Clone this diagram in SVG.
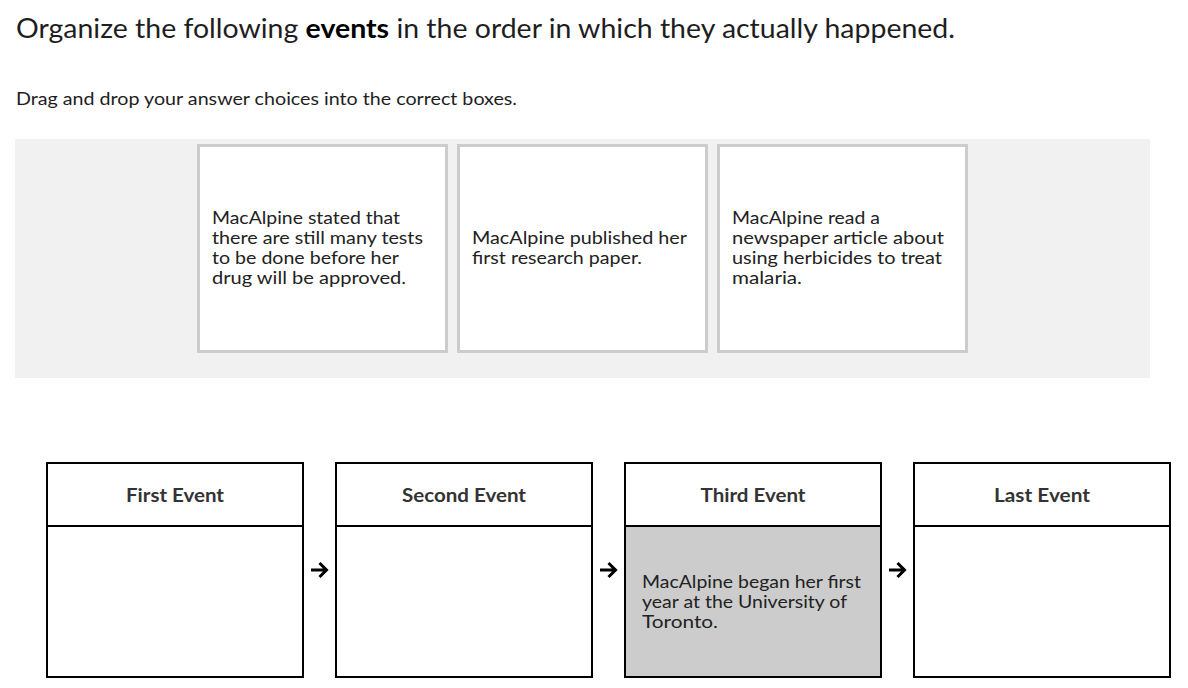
<svg xmlns="http://www.w3.org/2000/svg" width="1188" height="688" viewBox="0 0 1188 688">
<style>
text{font-family:"Source Sans Pro",Lato,"Noto Sans","Liberation Sans",sans-serif;fill:#1e1e1e}
.title{font-size:27px}
.sub{font-size:18px}
.card{fill:#fff;stroke:#cccccc;stroke-width:3}
.ct{font-size:17px;fill:#222}
.box{fill:#fff;stroke:#000;stroke-width:2}
.hd{font-size:18px;font-weight:bold;fill:#333;text-anchor:middle}
.arr{fill:none;stroke:#000;stroke-width:3;stroke-linecap:butt;stroke-linejoin:miter}
</style>
<rect width="1188" height="688" fill="#fff"/>
<g id="header">
<text class="title" x="16" y="38" textLength="939" lengthAdjust="spacingAndGlyphs">Organize the following <tspan font-weight="bold" fill="#000">events</tspan> in the order in which they actually happened.</text>
<text class="sub" x="16" y="105" textLength="501" lengthAdjust="spacingAndGlyphs">Drag and drop your answer choices into the correct boxes.</text>
</g>
<rect id="choices-panel" x="15" y="139" width="1135" height="239" fill="#f1f1f1"/>
<g id="choice1">
<rect class="card" x="198.5" y="145.5" width="248" height="206"/>
<text class="ct" x="212" y="224" textLength="188" lengthAdjust="spacingAndGlyphs">MacAlpine stated that</text>
<text class="ct" x="212" y="244" textLength="211" lengthAdjust="spacingAndGlyphs">there are still many tests</text>
<text class="ct" x="212" y="264" textLength="187" lengthAdjust="spacingAndGlyphs">to be done before her</text>
<text class="ct" x="212" y="284" textLength="194" lengthAdjust="spacingAndGlyphs">drug will be approved.</text>
</g>
<g id="choice2">
<rect class="card" x="458.5" y="145.5" width="248" height="206"/>
<text class="ct" x="472" y="244" textLength="215" lengthAdjust="spacingAndGlyphs">MacAlpine published her</text>
<text class="ct" x="472" y="264" textLength="170" lengthAdjust="spacingAndGlyphs">first research paper.</text>
</g>
<g id="choice3">
<rect class="card" x="718.5" y="145.5" width="248" height="206"/>
<text class="ct" x="732" y="224" textLength="148" lengthAdjust="spacingAndGlyphs">MacAlpine read a</text>
<text class="ct" x="732" y="244" textLength="212" lengthAdjust="spacingAndGlyphs">newspaper article about</text>
<text class="ct" x="732" y="264" textLength="210" lengthAdjust="spacingAndGlyphs">using herbicides to treat</text>
<text class="ct" x="732" y="284" textLength="70" lengthAdjust="spacingAndGlyphs">malaria.</text>
</g>
<g id="slot1">
<rect class="box" x="47" y="463" width="256" height="214"/>
<line x1="47" y1="526" x2="303" y2="526" stroke="#000" stroke-width="2"/>
<text class="hd" x="175" y="502" textLength="98" lengthAdjust="spacingAndGlyphs">First Event</text>
</g>
<g id="slot2">
<rect class="box" x="336" y="463" width="256" height="214"/>
<line x1="336" y1="526" x2="592" y2="526" stroke="#000" stroke-width="2"/>
<text class="hd" x="464" y="502" textLength="124" lengthAdjust="spacingAndGlyphs">Second Event</text>
</g>
<g id="slot3">
<rect class="box" x="625" y="463" width="256" height="214"/>
<rect x="626" y="527" width="254" height="149" fill="#cccccc"/>
<line x1="625" y1="526" x2="881" y2="526" stroke="#000" stroke-width="2"/>
<text class="hd" x="753" y="502" textLength="105" lengthAdjust="spacingAndGlyphs">Third Event</text>
<text class="ct" x="642" y="588" textLength="219" lengthAdjust="spacingAndGlyphs">MacAlpine began her first</text>
<text class="ct" x="642" y="608" textLength="205" lengthAdjust="spacingAndGlyphs">year at the University of</text>
<text class="ct" x="642" y="628" textLength="76" lengthAdjust="spacingAndGlyphs">Toronto.</text>
</g>
<g id="slot4">
<rect class="box" x="914" y="463" width="256" height="214"/>
<line x1="914" y1="526" x2="1170" y2="526" stroke="#000" stroke-width="2"/>
<text class="hd" x="1042" y="502" textLength="96" lengthAdjust="spacingAndGlyphs">Last Event</text>
</g>
<g id="connectors">
<path class="arr" d="M311 570H326M319.5 563L326.5 570L319.5 577"/>
<path class="arr" d="M600 570H615M608.5 563L615.5 570L608.5 577"/>
<path class="arr" d="M889 570H904M897.5 563L904.5 570L897.5 577"/>
</g>
</svg>
